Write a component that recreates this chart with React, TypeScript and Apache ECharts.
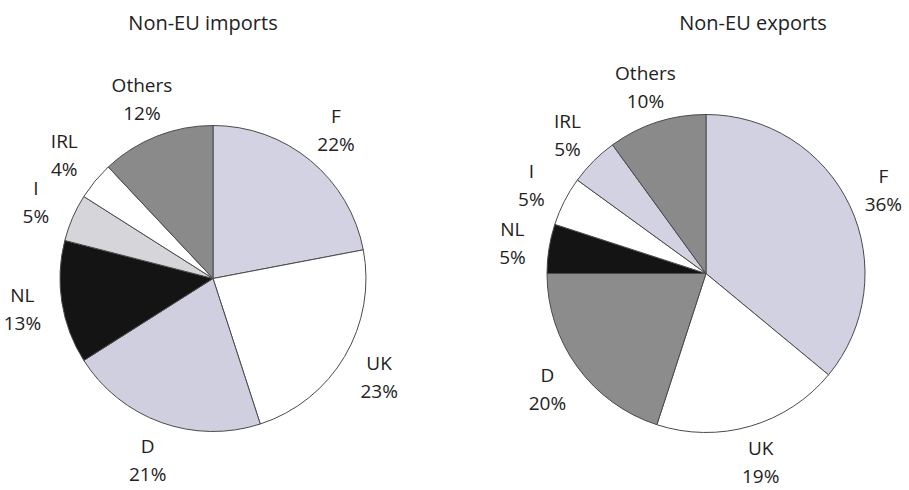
import React, { useEffect, useRef } from "react";
import * as echarts from "echarts";

const categories = ["F", "UK", "D", "NL", "I", "IRL", "Others"];
const importValues = [22, 23, 21, 13, 5, 4, 12];
const exportValues = [36, 19, 20, 5, 5, 5, 10];
const importColors = ["#d2d2e2", "#ffffff", "#cfcfe0", "#141414", "#d6d6da", "#ffffff", "#8a8a8a"];
const exportColors = ["#d1d1e1", "#ffffff", "#8c8c8c", "#141414", "#ffffff", "#d2d2e2", "#8a8a8a"];
const titles = ["Non-EU imports", "Non-EU exports"];

const FONT = "'Open Sans', 'DejaVu Sans', sans-serif";

function buildData(values: number[], colors: string[]) {
  return categories.map((name, i) => ({
    name,
    value: values[i],
    itemStyle: { color: colors[i] },
  }));
}

function labelData(values: number[]) {
  return categories.map((name, i) => ({ name, value: values[i] }));
}

function pieSeries(values: number[], colors: string[], center: number[], r: number, labelR: number) {
  return [
    {
      type: "pie",
      center,
      radius: [0, r],
      startAngle: 90,
      clockwise: true,
      silent: true,
      data: buildData(values, colors),
      itemStyle: { borderColor: "#4a4a4a", borderWidth: 1 },
      label: { show: false },
      labelLine: { show: false },
      emphasis: { disabled: true },
    },
    {
      type: "pie",
      center,
      radius: [labelR - 17, labelR + 17],
      startAngle: 90,
      clockwise: true,
      silent: true,
      data: labelData(values),
      itemStyle: { color: "rgba(0,0,0,0)", borderWidth: 0 },
      label: {
        show: true,
        position: "inside",
        formatter: (p: any) => `${p.name}\n${p.value}%`,
        color: "#222",
        fontFamily: FONT,
        fontSize: 19,
        lineHeight: 28,
        align: "center",
      },
      labelLine: { show: false },
      emphasis: { disabled: true },
    },
  ];
}

export default function App() {
  const ref = useRef<HTMLDivElement>(null);
  useEffect(() => {
    if (!ref.current) return;
    const chart = echarts.init(ref.current, undefined, { renderer: "svg" });
    chart.setOption({
      animation: false,
      backgroundColor: "#ffffff",
      title: [
        {
          text: titles[0],
          left: 198,
          top: 7,
          textAlign: "center",
          textStyle: { fontFamily: FONT, fontSize: 20, fontWeight: "normal", color: "#222" },
        },
        {
          text: titles[1],
          left: 748,
          top: 7,
          textAlign: "center",
          textStyle: { fontFamily: FONT, fontSize: 20, fontWeight: "normal", color: "#222" },
        },
      ],
      series: [
        ...pieSeries(importValues, importColors, [213, 278.5], 153, 190),
        ...pieSeries(exportValues, exportColors, [706, 273.5], 159, 193),
      ],
    });
    return () => chart.dispose();
  }, []);
  return (
    <div
      ref={ref}
      style={{ position: "fixed", left: 0, top: 0, width: 909, height: 490 }}
    />
  );
}
